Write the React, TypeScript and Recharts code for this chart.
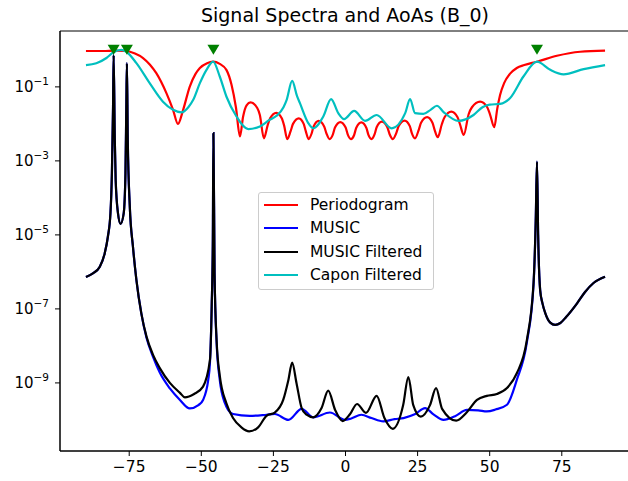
import { ComposedChart, Line, XAxis, YAxis, ReferenceArea } from 'recharts';

// values are log10 of the spectrum level
const periodogram: [number, number][] = [
  [-90, -0.03], [-84, -0.03], [-80, -0.02], [-76, -0.03], [-73, -0.1], [-70.2, -0.22], [-67.8, -0.4],
  [-65.6, -0.63], [-62.1, -1.17], [-59.8, -1.62], [-58.1, -2.0], [-56.3, -1.62], [-54, -0.99],
  [-52, -0.65], [-50.5, -0.49], [-48, -0.36], [-45.9, -0.32], [-43.6, -0.38], [-41.3, -0.54],
  [-39.5, -0.95], [-38, -1.55], [-36.6, -2.34], [-35.5, -1.8], [-34.3, -1.5], [-32.9, -1.42],
  [-30.6, -1.57], [-29.7, -1.76], [-28.3, -2.39], [-27, -2.04], [-26.15, -1.85], [-24, -1.7],
  [-22.1, -1.85], [-21.3, -2.04], [-20.2, -2.41], [-19, -2.19], [-18.2, -2.0], [-16.2, -1.85],
  [-14.5, -2.0], [-13.8, -2.19], [-12.8, -2.41], [-11.75, -2.26], [-11.05, -2.07], [-9.3, -1.92],
  [-7.4, -2.07], [-6.6, -2.26], [-5.5, -2.41], [-4.4, -2.29], [-3.65, -2.1], [-1.8, -1.95],
  [0.05, -2.1], [0.8, -2.29], [1.9, -2.41], [3.0, -2.3], [3.7, -2.11], [5.5, -1.96],
  [7.25, -2.11], [7.95, -2.3], [9, -2.41], [10.1, -2.28], [10.8, -2.09], [12.6, -1.94],
  [14.5, -2.09], [15.3, -2.28], [16.4, -2.41], [17.6, -2.25], [18.45, -2.06], [20.5, -1.91],
  [22.3, -2.06], [23.0, -2.25], [24.1, -2.39], [25.4, -2.16], [26.2, -1.97], [28.3, -1.82],
  [30.15, -1.97], [30.9, -2.16], [32, -2.36], [33.4, -2.01], [34.35, -1.82], [36.7, -1.67],
  [38.85, -1.82], [39.7, -2.01], [41, -2.3], [42.7, -1.74], [43.85, -1.55], [46.7, -1.4],
  [49.15, -1.55], [50.1, -1.74], [51.6, -2.09], [52.6, -1.6], [53.6, -1.22], [55, -0.9],
  [57, -0.65], [59.4, -0.49], [62, -0.41], [66.4, -0.32], [73.3, -0.16], [81.4, -0.05], [90, -0.02],
];

const music: [number, number][] = [
  [-90, -6.14], [-87.6, -6.04], [-85.2, -5.86], [-83.5, -5.5], [-82.4, -5.05], [-81.5, -4.41],
  [-81.0, -3.33], [-80.6, -1.53], [-80.4, -0.14], [-80.0, -2.43], [-79.7, -3.51], [-78.9, -4.41],
  [-78.0, -4.7], [-76.9, -4.41], [-76.3, -3.33], [-76.0, -1.53], [-75.8, -0.36], [-75.5, -2.44],
  [-74.8, -4.23], [-73.7, -5.32], [-72.5, -6.22], [-70.8, -7.12], [-69, -7.78], [-66.7, -8.3],
  [-64.4, -8.72], [-60.9, -9.15], [-57.4, -9.46], [-54, -9.69], [-51, -9.6], [-49.4, -9.46],
  [-47.6, -8.92], [-47, -8.45], [-46.4, -6.94], [-46.0, -5.14], [-45.8, -2.25], [-45.4, -6.04],
  [-44.7, -7.9], [-43.6, -8.92], [-41.8, -9.55], [-40.7, -9.73], [-39, -9.84], [-33.2, -9.89],
  [-27.4, -9.86], [-24.5, -9.84], [-19.8, -10.0], [-15.2, -9.7], [-11.2, -9.93], [-5.4, -9.8],
  [-0.2, -10.0], [2, -9.96], [5.5, -9.86], [9, -9.95], [13.1, -10.04], [17, -9.98], [20.1, -9.95],
  [24, -9.85], [27.6, -9.68], [30.5, -9.85], [34, -10.0], [38, -9.9], [42.1, -9.73], [46, -9.74],
  [49, -9.77], [52, -9.72], [56, -9.59], [59.4, -8.92], [62.9, -7.9], [65.2, -6.35], [66.0, -4.5],
  [66.4, -3.02], [66.8, -5.0], [67.5, -6.49], [68.3, -6.85], [69.3, -7.12], [71, -7.37],
  [72.7, -7.43], [74.5, -7.38], [76.5, -7.22], [80.3, -6.85], [83, -6.55], [86, -6.3], [90, -6.13],
];

const musicFiltered: [number, number][] = [
  [-90, -6.14], [-87.6, -6.04], [-85.2, -5.86], [-83.5, -5.5], [-82.4, -5.05], [-81.5, -4.41],
  [-81.0, -3.33], [-80.6, -1.53], [-80.4, -0.14], [-80.0, -2.43], [-79.7, -3.51], [-78.9, -4.41],
  [-78.0, -4.7], [-76.9, -4.41], [-76.3, -3.33], [-76.0, -1.53], [-75.8, -0.36], [-75.5, -2.44],
  [-74.8, -4.23], [-73.7, -5.32], [-72.5, -6.22], [-70.8, -7.12], [-69, -7.75], [-66.7, -8.25],
  [-64.4, -8.6], [-60.9, -9.0], [-57.4, -9.27], [-55.7, -9.39], [-52.5, -9.3], [-49.4, -9.1],
  [-47, -8.38], [-46.4, -6.94], [-46.0, -5.14], [-45.8, -2.25], [-45.4, -6.04], [-44.7, -7.84],
  [-43.6, -8.8], [-41.3, -9.55], [-39, -9.95], [-36.1, -10.2], [-33.4, -10.31], [-30.3, -10.2],
  [-27.4, -9.89], [-24.5, -9.8], [-21.6, -9.46], [-19.8, -8.92], [-18.5, -8.45], [-17, -9.0],
  [-15.2, -9.68], [-13.5, -9.86], [-11.2, -9.93], [-8.3, -9.68], [-6.0, -9.21], [-3.6, -9.73],
  [-1.0, -10.03], [1.6, -9.84], [4.0, -9.57], [7.1, -9.81], [10.8, -9.35], [13.5, -9.95],
  [16.4, -10.24], [20, -9.6], [21.8, -8.84], [23.5, -9.6], [26.1, -9.91], [29.3, -9.6],
  [31.4, -9.14], [33.5, -9.7], [38.4, -10.02], [42, -9.8], [45.6, -9.46], [49, -9.35],
  [52.5, -9.3], [56, -9.14], [59.4, -8.74], [62.9, -7.84], [65.2, -6.31], [66.0, -4.5],
  [66.4, -3.02], [66.8, -5.0], [67.5, -6.49], [68.3, -6.85], [69.3, -7.12], [71, -7.37],
  [72.7, -7.43], [74.5, -7.38], [76.5, -7.22], [80.3, -6.85], [83, -6.55], [86, -6.3], [90, -6.13],
];

const caponFiltered: [number, number][] = [
  [-90, -0.41], [-86.4, -0.36], [-82.9, -0.22], [-80.6, -0.07], [-77.7, 0.0], [-76, -0.05],
  [-72.5, -0.36], [-67.9, -0.9], [-63.3, -1.4], [-59.8, -1.62], [-56.9, -1.69], [-54.5, -1.55],
  [-52.8, -1.35], [-50.5, -0.9], [-48.2, -0.54], [-45.9, -0.32], [-43.6, -0.72], [-41.3, -1.26],
  [-37.8, -1.8], [-33.7, -2.14], [-29.7, -2.07], [-26.5, -1.9], [-23.9, -1.78], [-21.5, -1.55],
  [-20.4, -1.35], [-18.5, -0.84], [-16.8, -1.25], [-15.8, -1.44], [-12.9, -1.98], [-11.2, -2.12],
  [-7.7, -1.8], [-5.0, -1.33], [-2.5, -1.71], [-0.5, -1.87], [3.0, -1.65], [6.8, -1.92],
  [10.8, -1.76], [16.0, -2.12], [20.7, -1.71], [22.4, -1.33], [24.1, -1.71], [27.0, -1.73],
  [29.5, -1.62], [31.7, -1.51], [34, -1.68], [39.2, -1.92], [44.4, -1.76], [47.5, -1.55],
  [50, -1.48], [53.6, -1.46], [57.1, -1.3], [61.7, -0.72], [66.4, -0.32], [71, -0.54],
  [75.6, -0.66], [82.6, -0.52], [90, -0.41],
];

const aoaPeaks = [-80.4, -75.8, -45.8, 66.4];
const aoaLevel = 0;

const xTicks = [-75, -50, -25, 0, 25, 50, 75];
const yTicks = [-9, -7, -5, -3, -1];

const FONT = 'DejaVu Sans';
const LINE_W = 2.2;

const toRows = (pts: [number, number][]) => pts.map(([x, y]) => ({ x, y }));

const LogTick = ({ x, y, payload }: any) => {
  const exp = payload.value as number;
  const sign = exp < 0 ? '\u2212' : '';
  return (
    <text x={x} y={y + 5} textAnchor="end" fontSize={15} fontFamily={FONT} fill="#000">
      10
      <tspan dy={-7} fontSize={10.5}>
        {sign + Math.abs(exp)}
      </tspan>
    </text>
  );
};

const Triangle = ({ cx, cy }: any) => {
  if (cx == null || cy == null) return null;
  return <polygon points={`${cx - 6},${cy - 5} ${cx + 6},${cy - 5} ${cx},${cy + 5}`} fill="#008000" />;
};

const legendItems = [
  { name: 'Periodogram', color: '#ff0000' },
  { name: 'MUSIC', color: '#0000ff' },
  { name: 'MUSIC Filtered', color: '#000000' },
  { name: 'Capon Filtered', color: '#00bfbf' },
];

export default function App() {
  const markers = aoaPeaks.map((x) => ({ x, y: aoaLevel }));
  return (
    <div
      style={{
        position: 'absolute',
        left: 0,
        top: 0,
        width: 628,
        height: 481,
        overflow: 'hidden',
        background: '#fff',
        fontFamily: FONT,
      }}
    >
      <div
        style={{
          position: 'absolute',
          left: 95,
          width: 500,
          top: 4,
          textAlign: 'center',
          fontSize: 19,
          color: '#000',
        }}
      >
        Signal Spectra and AoAs (B_0)
      </div>
      <ComposedChart width={640} height={481} margin={{ top: 31, right: 9, bottom: 0, left: 0 }}>
        <XAxis
          type="number"
          dataKey="x"
          domain={[-99, 99]}
          allowDataOverflow
          ticks={xTicks}
          height={30}
          tickSize={5}
          tickMargin={5}
          stroke="#000"
          tick={{ fontSize: 15.5, fill: '#000', fontFamily: FONT }}
          tickFormatter={(v: number) => (v < 0 ? '\u2212' + Math.abs(v) : String(v))}
        />
        <YAxis
          type="number"
          domain={[-10.84, 0.51]}
          allowDataOverflow
          ticks={yTicks}
          width={60}
          tickSize={5}
          tickMargin={6}
          stroke="#000"
          tick={<LogTick />}
        />
        <ReferenceArea x1={-99} x2={99} y1={-10.84} y2={0.51} fill="none" stroke="#000" strokeWidth={1} />
        <Line data={toRows(periodogram)} dataKey="y" type="monotone" stroke="#ff0000" strokeWidth={LINE_W} dot={false} isAnimationActive={false} />
        <Line data={toRows(music)} dataKey="y" type="monotone" stroke="#0000ff" strokeWidth={LINE_W} dot={false} isAnimationActive={false} />
        <Line data={toRows(musicFiltered)} dataKey="y" type="monotone" stroke="#000000" strokeWidth={LINE_W} dot={false} isAnimationActive={false} />
        <Line data={toRows(caponFiltered)} dataKey="y" type="monotone" stroke="#00bfbf" strokeWidth={LINE_W} dot={false} isAnimationActive={false} />
        <Line data={markers} dataKey="y" stroke="none" dot={<Triangle />} isAnimationActive={false} />
      </ComposedChart>
      <div
        style={{
          position: 'absolute',
          left: 258,
          top: 192,
          width: 174,
          height: 96,
          border: '1px solid #cccccc',
          borderRadius: 3,
          background: 'rgba(255,255,255,0.8)',
        }}
      >
        {legendItems.map((item, i) => (
          <div key={item.name}>
            <div
              style={{
                position: 'absolute',
                left: 5,
                top: 12 + i * 23.3 - 1,
                width: 34,
                height: 2,
                background: item.color,
              }}
            />
            <div
              style={{
                position: 'absolute',
                left: 51,
                top: 12 + i * 23.3 - 10,
                height: 20,
                lineHeight: '20px',
                fontSize: 15.5,
                color: '#000',
                whiteSpace: 'nowrap',
              }}
            >
              {item.name}
            </div>
          </div>
        ))}
      </div>
    </div>
  );
}
